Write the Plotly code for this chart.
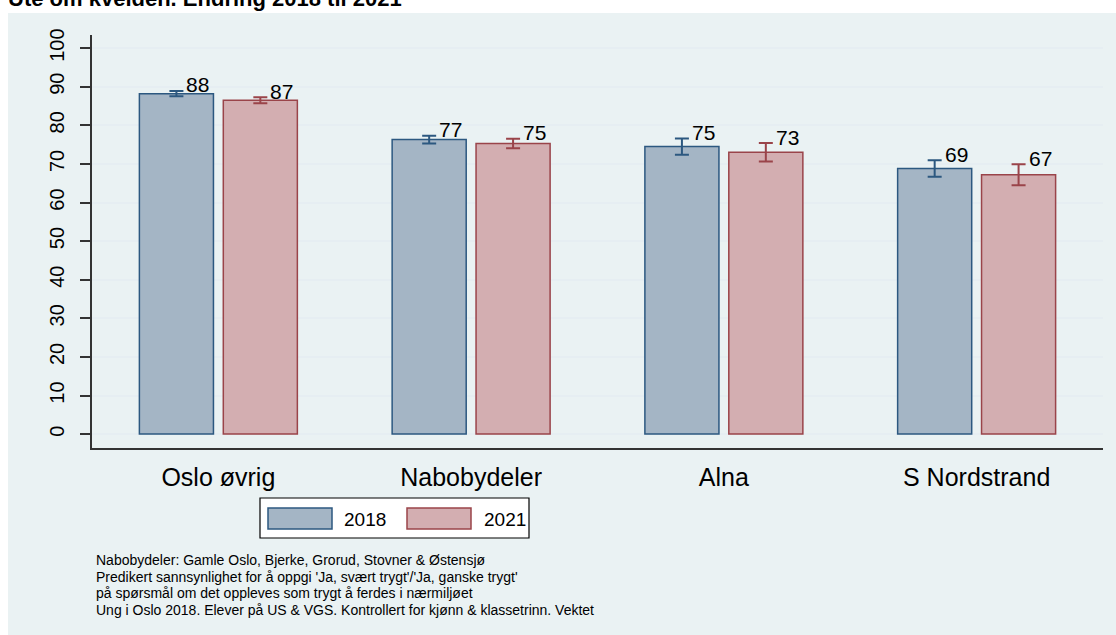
import plotly.graph_objects as go

# ---- data ----
categories = ["Oslo øvrig", "Nabobydeler", "Alna", "S Nordstrand"]
years = ["2018", "2021"]
values_2018 = [88.2, 76.3, 74.5, 68.8]
values_2021 = [86.5, 75.3, 73.0, 67.2]
err_2018 = [0.7, 1.0, 2.1, 2.15]
err_2021 = [0.75, 1.25, 2.4, 2.7]
labels_2018 = ["88", "77", "75", "69"]
labels_2021 = ["87", "75", "73", "67"]
y_ticks = [0, 10, 20, 30, 40, 50, 60, 70, 80, 90, 100]
title_text = "Ute om kvelden. Endring 2018 til 2021"
notes = [
    "Nabobydeler: Gamle Oslo, Bjerke, Grorud, Stovner & Østensjø",
    "Predikert sannsynlighet for å oppgi 'Ja, svært trygt'/'Ja, ganske trygt'",
    "på spørsmål om det oppleves som trygt å ferdes i nærmiljøet",
    "Ung i Oslo 2018. Elever på US & VGS. Kontrollert for kjønn & klassetrinn. Vektet",
]

# ---- style ----
FONT = "Liberation Sans, Arial, sans-serif"
BG = "#EAF2F3"
fills = ["#A4B5C5", "#D3AEB1"]
lines = ["#2C5880", "#9A444A"]
offsets = [-0.166, 0.166]
bar_w = 0.293

W, H = 1116, 635
ML, MR, MT, MB = 92, 13, 35, 187
pw, ph = W - ML - MR, H - MT - MB


def px_x(p):
    return (p - ML) / pw


def px_y(p):
    return (H - MB - p) / ph


fig = go.Figure()
series = [(values_2018, err_2018, labels_2018), (values_2021, err_2021, labels_2021)]
annotations = []
for k, (vals, errs, labs) in enumerate(series):
    xs = [i + offsets[k] for i in range(len(categories))]
    fig.add_trace(go.Bar(
        x=xs, y=vals, width=bar_w, name=years[k],
        marker=dict(color=fills[k], line=dict(color=lines[k], width=1.5)),
        error_y=dict(type="data", array=errs, visible=True, color=lines[k],
                     thickness=2, width=7),
        showlegend=False,
    ))
    for x, v, e, t in zip(xs, vals, errs, labs):
        annotations.append(dict(
            x=x, y=v + e, xref="x", yref="y", text=t, showarrow=False,
            xanchor="left", yanchor="middle", xshift=8, yshift=6,
            font=dict(family=FONT, size=21, color="black"),
        ))

# title (cut off at top, as in reference)
annotations.append(dict(
    x=px_x(6), y=px_y(13), xref="paper", yref="paper", text="<b>" + title_text + "</b>",
    showarrow=False, xanchor="left", yanchor="bottom",
    font=dict(family=FONT, size=22, color="black"),
))

# manual legend
shapes = [
    dict(type="rect", xref="paper", yref="paper", layer="below",
         x0=px_x(8), x1=px_x(W + 5), y0=px_y(H + 5), y1=px_y(13),
         fillcolor=BG, line=dict(width=0)),
    dict(type="rect", xref="paper", yref="paper",
         x0=px_x(260), x1=px_x(529), y0=px_y(538), y1=px_y(498),
         fillcolor="white", line=dict(color="black", width=1.2)),
]
sw = [(268, 332, 342), (407, 471, 482)]
for k in range(2):
    x0, x1, tx = sw[k]
    shapes.append(dict(type="rect", xref="paper", yref="paper",
                       x0=px_x(x0), x1=px_x(x1), y0=px_y(529), y1=px_y(508),
                       fillcolor=fills[k], line=dict(color=lines[k], width=1.5)))
    annotations.append(dict(x=px_x(tx), y=px_y(519), xref="paper", yref="paper",
                            text=years[k], showarrow=False, xanchor="left", yanchor="middle",
                            font=dict(family=FONT, size=19, color="black")))

note_y = [560, 576.7, 593.3, 610]
for t, yy in zip(notes, note_y):
    annotations.append(dict(x=px_x(94), y=px_y(yy), xref="paper", yref="paper",
                            text=t, showarrow=False, xanchor="left", yanchor="middle",
                            font=dict(family=FONT, size=14, color="black")))

fig.update_layout(
    width=W, height=H,
    margin=dict(l=ML, r=MR, t=MT, b=MB),
    paper_bgcolor="white", plot_bgcolor="white",
    barmode="overlay",
    shapes=shapes, annotations=annotations,
    font=dict(family=FONT, color="black"),
    xaxis=dict(range=[-0.5, len(categories) - 0.5], tickvals=list(range(len(categories))),
               ticktext=categories, showgrid=False, zeroline=False,
               showline=True, linecolor="#333333", linewidth=1.5, ticks="",
               ticklabelstandoff=6, tickfont=dict(family=FONT, size=25, color="black")),
    yaxis=dict(range=[-3.6, 103.4], tickvals=y_ticks, showgrid=True,
               gridcolor="#E6EEF2", gridwidth=1.5, zeroline=False,
               showline=True, linecolor="#333333", linewidth=1.5,
               ticks="outside", ticklen=10, tickcolor="#333333", tickwidth=1.5,
               tickangle=-90, ticklabelstandoff=8,
               tickfont=dict(family=FONT, size=20, color="black")),
)

fig.write_html("out.html", config={"displayModeBar": False},
               post_script="document.body.style.margin='0';")
